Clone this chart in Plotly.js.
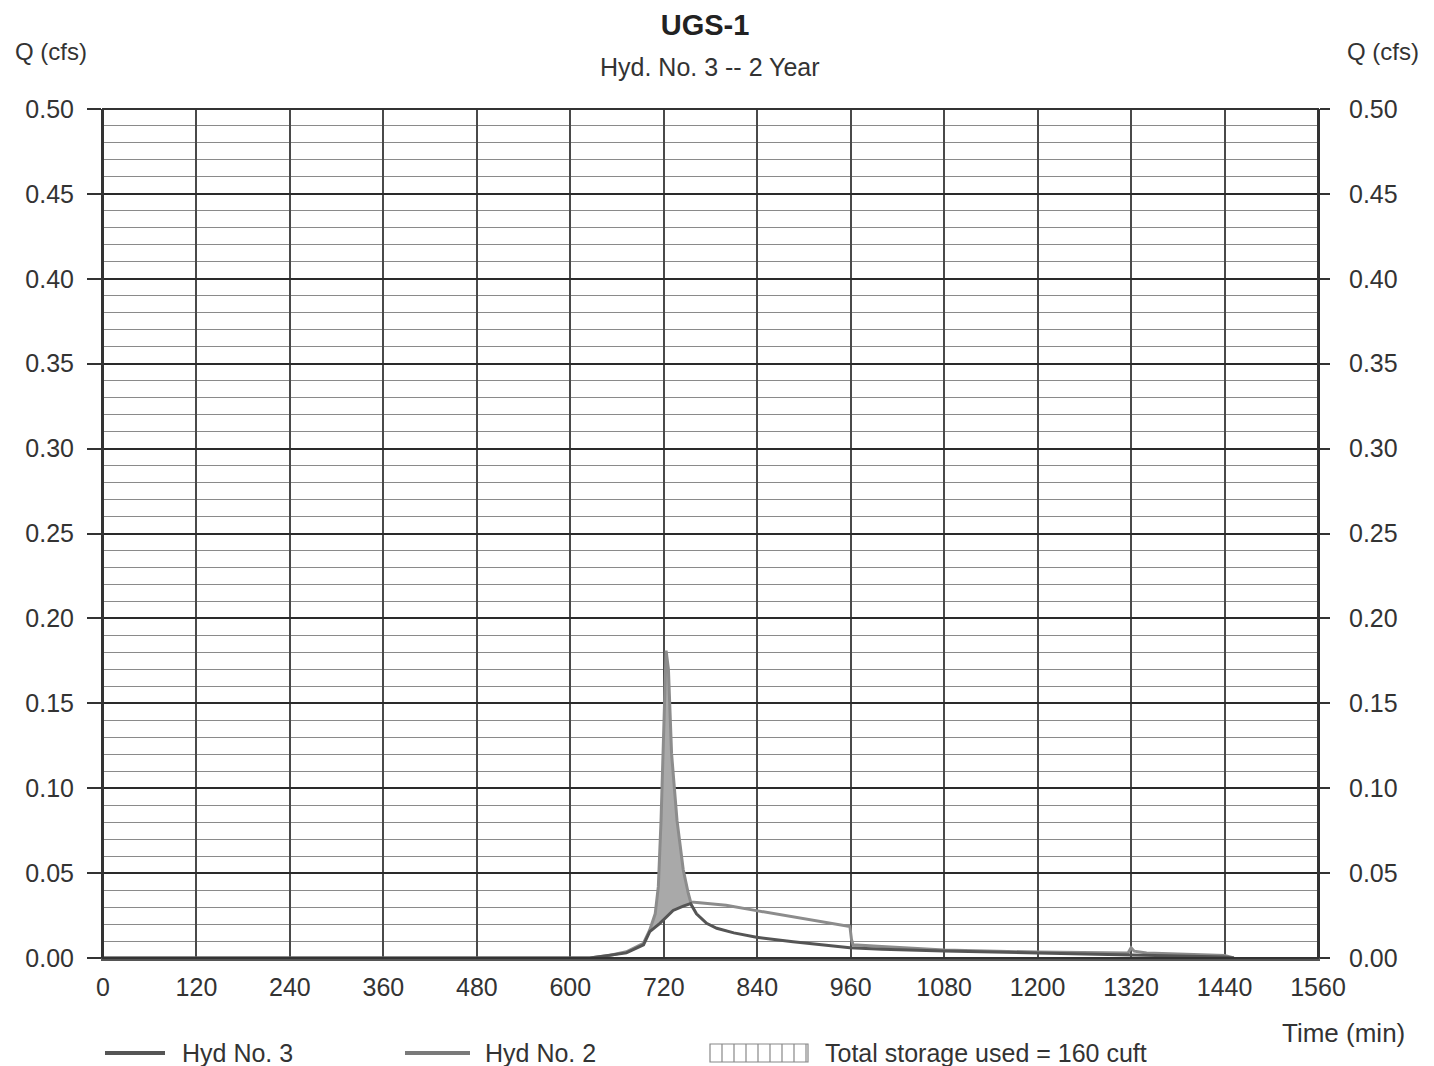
<!DOCTYPE html>
<html>
<head>
<meta charset="utf-8">
<script src="https://cdn.plot.ly/plotly-3.0.1.min.js"></script>
<style>html,body{margin:0;padding:0;background:#fff;}#chart{width:1434px;height:1066px;}</style>
</head>
<body>
<div id="chart"></div>
<script>
// ---- data ----
var inflowTime = [0, 625, 650, 672, 694, 702, 709, 713, 716.5, 719.5, 723, 726, 730, 737, 745, 751.5, 754.5, 766, 800, 839, 886, 959, 961, 963, 1000, 1080, 1200, 1316, 1320, 1324, 1340, 1400, 1440, 1452];
var inflowQ    = [0, 0, 0.0015, 0.0037, 0.0087, 0.0165, 0.026, 0.042, 0.081, 0.130, 0.181, 0.170, 0.1205, 0.081, 0.052, 0.038, 0.033, 0.0325, 0.031, 0.0279, 0.0243, 0.0186, 0.0110, 0.0078, 0.0068, 0.0047, 0.0035, 0.0030, 0.0060, 0.0040, 0.0030, 0.0022, 0.0015, 0];
var outflowTime = [0, 625, 672, 694, 702, 715, 732, 745, 754.5, 762, 775, 788, 810, 839, 886, 959, 1000, 1080, 1200, 1320, 1440, 1452];
var outflowQ    = [0, 0, 0.003, 0.0077, 0.0155, 0.0204, 0.028, 0.0306, 0.032, 0.026, 0.0204, 0.0175, 0.0148, 0.0122, 0.0096, 0.0061, 0.0052, 0.0041, 0.003, 0.0018, 0.0006, 0];
var storageStart = 694, storageEnd = 754.5;
var totalStorage = 160;
var xTicks = [0,120,240,360,480,600,720,840,960,1080,1200,1320,1440,1560];
var yTicks = [0,0.05,0.10,0.15,0.20,0.25,0.30,0.35,0.40,0.45,0.50];
var yTickText = yTicks.map(function(v){return v.toFixed(2);});

// storage polygon built from the two hydrographs
var fx = [], fy = [];
for (var i=0;i<inflowTime.length;i++){ if(inflowTime[i]>=storageStart && inflowTime[i]<=storageEnd){fx.push(inflowTime[i]);fy.push(inflowQ[i]);} }
for (var j=outflowTime.length-1;j>=0;j--){ if(outflowTime[j]>=storageStart && outflowTime[j]<=storageEnd){fx.push(outflowTime[j]);fy.push(outflowQ[j]);} }

var FONT = 'Liberation Sans, Arial, sans-serif';
var traces = [
  {x: fx, y: fy, type:'scatter', mode:'lines', fill:'toself', fillcolor:'#a9a9a9', line:{width:0, color:'#a9a9a9'}, showlegend:false, hoverinfo:'skip'},
  {x: inflowTime, y: inflowQ, type:'scatter', mode:'lines', name:'Hyd No. 2', line:{color:'#8c8c8c', width:3}, showlegend:false},
  {x: outflowTime, y: outflowQ, type:'scatter', mode:'lines', name:'Hyd No. 3', line:{color:'#555555', width:3}, showlegend:false},
  {x: outflowTime, y: outflowQ, type:'scatter', mode:'lines', yaxis:'y2', opacity:0, line:{width:0}, showlegend:false, hoverinfo:'skip'}
];

function px2x(p){return (p-103)/1215;}
function px2y(p){return (958-p)/849;}

var shapes = [
  {type:'rect', xref:'paper', yref:'paper', x0:0, x1:1, y0:0, y1:1, line:{color:'#333', width:2}},
  // legend samples
  {type:'line', xref:'paper', yref:'paper', x0:px2x(105), x1:px2x(165), y0:px2y(1053), y1:px2y(1053), line:{color:'#555', width:4}},
  {type:'line', xref:'paper', yref:'paper', x0:px2x(405), x1:px2x(470), y0:px2y(1053), y1:px2y(1053), line:{color:'#7a7a7a', width:4}},
  {type:'rect', xref:'paper', yref:'paper', x0:px2x(710), x1:px2x(808), y0:px2y(1062), y1:px2y(1044), line:{color:'#888', width:1.2}}
];
for (var h=722; h<808; h+=12){
  shapes.push({type:'line', xref:'paper', yref:'paper', x0:px2x(h), x1:px2x(h), y0:px2y(1062), y1:px2y(1044), line:{color:'#888', width:1.2}});
}

function ann(text, xp, yp, size, anchor){
  return {text:text, xref:'paper', yref:'paper', x:px2x(xp), y:px2y(yp), xanchor:anchor||'center', yanchor:'middle',
          showarrow:false, font:{family:FONT, size:size, color:'#333'}};
}
var annotations = [
  ann('Hyd. No. 3 -- 2 Year', 710, 67, 25),
  ann('Q (cfs)', 51, 52, 24),
  ann('Q (cfs)', 1383, 52, 24),
  ann('Time (min)', 1343, 1033, 26),
  ann('Hyd No. 3', 180, 1053, 25, 'left'),
  ann('Hyd No. 2', 483, 1053, 25, 'left'),
  ann('Total storage used = ' + totalStorage + ' cuft', 823, 1053, 25, 'left')
];

var layout = {
  width:1434, height:1066,
  margin:{l:103, r:116, t:109, b:108, pad:0},
  paper_bgcolor:'#fff', plot_bgcolor:'#fff',
  font:{family:FONT, color:'#333'},
  showlegend:false,
  title:{text:'<b>UGS-1</b>', x:0.4955, xref:'paper', y:1-25/1066, yref:'container', yanchor:'middle', xanchor:'center', font:{family:FONT, size:29, color:'#222'}},
  xaxis:{range:[0,1560], tickmode:'array', tickvals:xTicks, ticktext:xTicks.map(String), showgrid:true, gridcolor:'#4a4a4a', gridwidth:2,
         zeroline:false, showline:true, linecolor:'#555', linewidth:3, ticks:'outside', ticklen:0, tickcolor:'rgba(0,0,0,0)', ticklabelstandoff:5,
         tickfont:{family:FONT, size:25, color:'#333'}, fixedrange:true},
  yaxis:{range:[0,0.5], tickmode:'array', tickvals:yTicks, ticktext:yTickText, showgrid:true, gridcolor:'#2a2a2a', gridwidth:2,
         minor:{dtick:0.01, tick0:0, showgrid:true, gridcolor:'#8a8a8a', gridwidth:1, ticks:''},
         zeroline:false, showline:true, linecolor:'#333', linewidth:2, ticks:'outside', ticklen:14, tickwidth:2, tickcolor:'#333', ticklabelstandoff:8,
         tickfont:{family:FONT, size:25, color:'#333'}, fixedrange:true},
  yaxis2:{range:[0,0.5], overlaying:'y', side:'right', tickmode:'array', tickvals:yTicks, ticktext:yTickText, showgrid:false, zeroline:false,
         showline:true, linecolor:'#333', linewidth:2, ticks:'outside', ticklen:10, tickwidth:2, tickcolor:'#333', ticklabelstandoff:14,
         tickfont:{family:FONT, size:25, color:'#333'}, fixedrange:true},
  shapes:shapes,
  annotations:annotations
};

Plotly.newPlot('chart', traces, layout, {displayModeBar:false, staticPlot:true});
</script>
</body>
</html>
